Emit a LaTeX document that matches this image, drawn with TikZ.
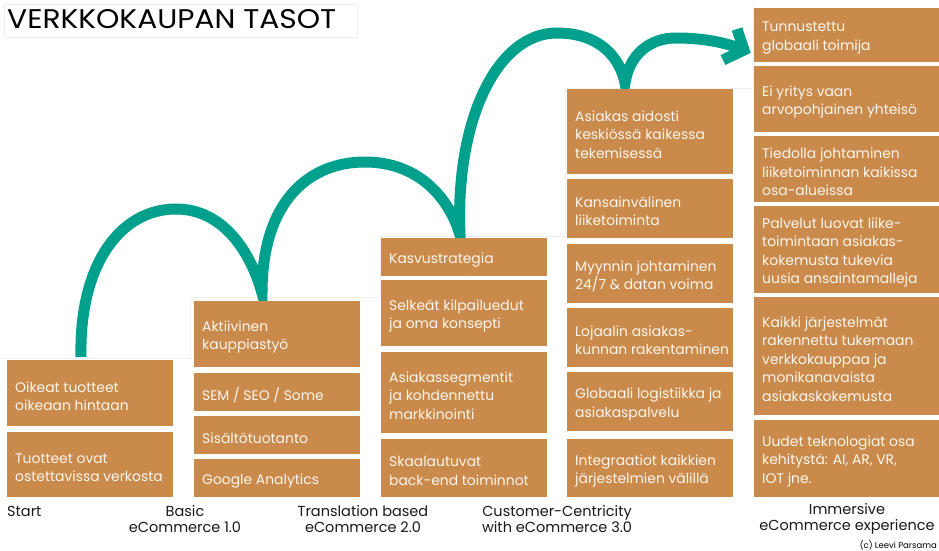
\documentclass[tikz,border=0pt]{standalone}
\usepackage{fontspec}
\setmainfont{Poppins}
\definecolor{boxc}{HTML}{C98A4B}
\definecolor{boxtext}{HTML}{FCF6EE}
\definecolor{teal}{HTML}{00A08C}
\definecolor{frame}{HTML}{EFEFEF}
\tikzset{
  txt/.style={anchor=west, align=left, inner sep=0pt, text=boxtext,
    font=\fontsize{13.9}{18.4}\selectfont},
  lbl/.style={align=center, inner sep=0pt, text=black!90,
    font=\fontsize{14.5}{16.5}\selectfont},
  jump/.style={draw=teal, line width=11pt},
}
% filled level box with its caption set inside, left aligned
\newcommand\stepbox[6]{%
  \fill[boxc] (#2,#3) rectangle (#4,#5);
  \node[txt] (#1) at ({#2+8},{(#3+#5)/2+3}) {#6};}
\begin{document}
\begin{tikzpicture}[x=1pt,y=-1pt]
\useasboundingbox[fill=white] (0,0) rectangle (939,551);

% title
\draw[frame, line width=0.6pt] (4,4) rectangle (357,37);
\node[anchor=west, inner sep=0pt, font=\fontsize{27}{30}\selectfont] (title) at (7,19)
  {\scalebox{1.1}[1]{VERKKOKAUPAN TASOT}};

% faint outline of the white backdrop behind the arrow
\draw[frame, line width=0.6pt] (0,358) -- (190,358) -- (190,297) -- (380,297)
  -- (380,236) -- (565,236) -- (565,88) -- (753,88) -- (753,3);

% the jumping arrow
\coordinate (j0) at (81,357);
\coordinate (j1) at (262,293);
\coordinate (j2) at (460,235);
\coordinate (j3) at (625,83);
\coordinate (j4) at (744,50);
\draw[jump] (j0) .. controls (79,262) and (122,209) .. (176,209)
  .. controls (222,209) and (250,250) .. (j1)
  .. controls (262,200) and (310,162) .. (365,162)
  .. controls (420,162) and (450,200) .. (j2)
  .. controls (455,120) and (497,33) .. (557,33)
  .. controls (600,33) and (620,58) .. (j3)
  .. controls (630,52) and (652,38) .. (676,38)
  .. controls (705,38) and (727,43) .. (j4);
\draw[jump, miter limit=10] (737,29) -- (j4) -- (723,60);

% Start
\stepbox{a1}{7}{360}{173}{426}{Oikeat tuotteet\\oikeaan hintaan}
\stepbox{a2}{7}{432}{173}{497}{Tuotteet ovat\\ostettavissa verkosta}

% Basic eCommerce 1.0
\stepbox{b1}{194}{301}{360}{367}{Aktiivinen\\kauppiastyö}
\stepbox{b2}{194}{373}{360}{411}{SEM / SEO / Some}
\stepbox{b3}{194}{416}{360}{454}{Sisältötuotanto}
\stepbox{b4}{194}{459}{360}{497}{Google Analytics}

% Translation based eCommerce 2.0
\stepbox{c1}{381}{238}{547}{276}{Kasvustrategia}
\stepbox{c2}{381}{280}{547}{346}{Selkeät kilpailuedut\\ja oma konsepti}
\stepbox{c3}{381}{352}{547}{433}{Asiakassegmentit\\ja kohdennettu\\markkinointi}
\stepbox{c4}{381}{439}{547}{497}{Skaalautuvat\\back-end toiminnot}

% Customer-Centricity with eCommerce 3.0
\stepbox{d1}{567}{89}{733}{174}{Asiakas aidosti\\keskiössä kaikessa\\tekemisessä}
\stepbox{d2}{567}{179}{733}{238}{Kansainvälinen\\liiketoiminta}
\stepbox{d3}{567}{244}{733}{303}{Myynnin johtaminen\\24/7 \& datan voima}
\stepbox{d4}{567}{308}{733}{367}{Lojaalin asiakas-\\kunnan rakentaminen}
\stepbox{d5}{567}{372}{733}{431}{Globaali logistiikka ja\\asiakaspalvelu}
\stepbox{d6}{567}{439}{733}{497}{Integraatiot kaikkien\\järjestelmien välillä}

% Immersive eCommerce experience
\stepbox{e1}{754}{8}{939}{62}{Tunnustettu\\globaali toimija}
\stepbox{e2}{754}{66}{939}{132}{Ei yritys vaan\\arvopohjainen yhteisö}
\stepbox{e3}{754}{136}{939}{202}{Tiedolla johtaminen\\liiketoiminnan kaikissa\\osa-alueissa}
\stepbox{e4}{754}{206}{939}{293}{Palvelut luovat liike-\\toimintaan asiakas-\\kokemusta tukevia\\uusia ansaintamalleja}
\stepbox{e5}{754}{297}{939}{415}{Kaikki järjestelmät\\rakennettu tukemaan\\verkkokauppaa ja\\monikanavaista\\asiakaskokemusta}
\stepbox{e6}{754}{420}{939}{497}{Uudet teknologiat osa\\kehitystä: AI, AR, VR,\\IOT jne.}

% stage names
\node[lbl, anchor=west] (l0) at (7,511) {Start};
\node[lbl] (l1) at (185,519) {Basic\\eCommerce 1.0};
\node[lbl] (l2) at (363,519) {Translation based\\eCommerce 2.0};
\node[lbl] (l3) at (557,519) {Customer-Centricity\\with eCommerce 3.0};
\node[lbl] (l4) at (847,519) {Immersive\\eCommerce experience};
\node[anchor=east, inner sep=0pt, font=\fontsize{8.5}{10}\selectfont] (copy) at (937,545) {(c) Leevi Parsama};
\end{tikzpicture}
\end{document}
